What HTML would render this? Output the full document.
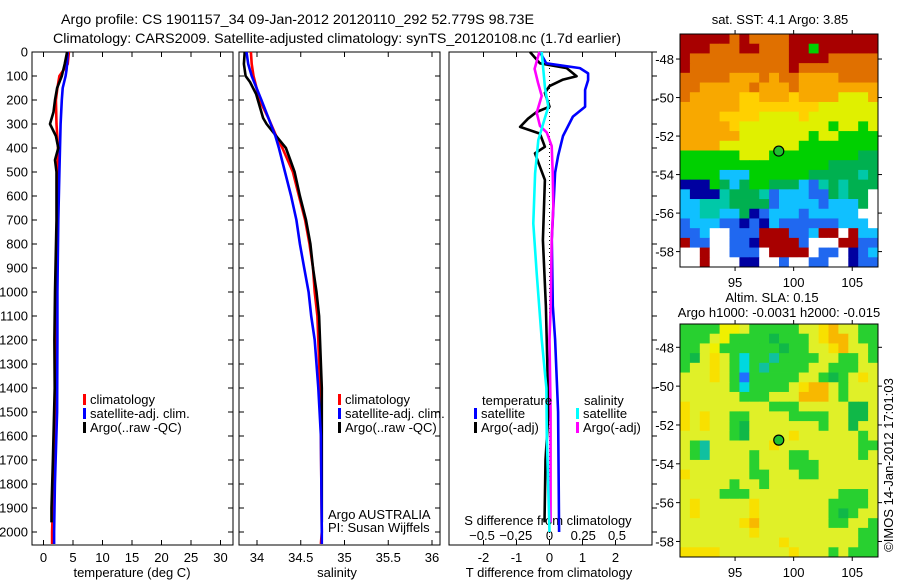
<!DOCTYPE html>
<html><head><meta charset="utf-8"><style>
html,body{margin:0;padding:0;background:#fff;}
svg{display:block;font-family:"Liberation Sans",sans-serif;}
</style></head><body>
<svg id="fig" width="900" height="580" viewBox="0 0 900 580" xmlns="http://www.w3.org/2000/svg">
<text x="61" y="24" font-size="14" textLength="473" lengthAdjust="spacingAndGlyphs">Argo profile: CS 1901157_34 09-Jan-2012 20120110_292 52.779S 98.73E</text>
<text x="53" y="43" font-size="14" textLength="568" lengthAdjust="spacingAndGlyphs">Climatology: CARS2009. Satellite-adjusted climatology: synTS_20120108.nc (1.7d earlier)</text>
<g id="g"></g>
</svg>
<script>
// ---------- data ----------
const tDepth = [0,50,75,100,150,200,300,400,500,700,1000,1200,1500,1800,2000,2050];
const tempClim = [4.3,4.1,3.4,2.7,2.35,2.1,2.2,2.45,2.35,2.4,2.1,2.05,2.0,1.7,1.45,1.45];
const tempSat = [4.1,4.0,3.9,3.75,3.25,3.1,2.9,2.8,2.7,2.5,2.35,2.35,2.3,1.93,1.8,1.8];
const argoDepth = [0,50,100,150,200,250,300,350,400,450,500,700,1000,1200,1400,1700,1900,1960];
const tempArgo = [4.0,3.6,3.1,2.3,1.95,1.7,1.1,2.1,2.5,1.95,2.2,2.2,1.95,1.85,1.9,1.6,1.35,1.35];
const sDepth = [0,50,100,200,275,350,400,500,600,700,800,900,1000,1100,1200,1400,1600,2000,2050];
const salClim = [33.93,33.94,33.96,34.03,34.13,34.22,34.29,34.41,34.48,34.55,34.6,34.64,34.66,34.69,34.7,34.72,34.73,34.74,34.73];
const salSat = [33.88,33.9,33.94,34.05,34.13,34.21,34.25,34.32,34.39,34.45,34.49,34.54,34.59,34.62,34.66,34.7,34.73,34.74,34.74];
const salDepthArgo = [0,50,100,125,175,225,275,300,350,400,450,500,600,700,800,900,1000,1100,1200,1400,1960];
const salArgo = [33.86,33.85,33.87,33.92,33.99,34.03,34.07,34.11,34.22,34.33,34.38,34.43,34.49,34.56,34.61,34.64,34.68,34.71,34.72,34.74,34.74];
const dDepth = [0,47,67,89,117,158,228,269,350,433,503,781,1058,1197,1500,2000];
const dTsat = [-0.29,-0.1,0.92,1.17,1.17,1.08,1.08,0.71,0.41,0.26,0.17,0.07,0.1,0.17,0.26,0.29];
const dArgoDepth = [0,47,67,101,115,142,170,228,250,278,312,340,395,422,478,533,783,1061,1500,1700,1960];
const dTargo = [-0.59,-0.29,0.52,0.82,0.41,0,-0.14,0,-0.39,-0.65,-0.89,-0.29,-0.14,-0.44,-0.29,-0.14,-0.2,-0.11,-0.03,-0.12,-0.15];
const dsArgoDepth = [0,70,128,183,253,308,336,392,503,642,781,1058,1200,1500,1960];
const dSargo = [-0.075,-0.11,-0.085,-0.058,-0.095,-0.07,-0.02,0.016,0.024,0.028,0.016,0.009,0,0.008,0.008];
const dsSatDepth = [0,150,228,297,367,506,714,922,1197,1400,1600,2000];
const dSsat = [-0.058,-0.033,-0.009,-0.046,-0.083,-0.107,-0.12,-0.095,-0.058,-0.023,-0.02,0];
const depthTicks = [0,100,200,300,400,500,600,700,800,900,1000,1100,1200,1300,1400,1500,1600,1700,1800,1900,2000];
const tempTicks = [0,5,10,15,20,25,30];
const salTicks = [34,34.5,35,35.5,36];
const salTickLabels = ["34","34.5","35","35.5","36"];
const dTticks = [-2,-1,0,1,2];
const dSticks = [-0.5,-0.25,0,0.25,0.5];
const latTicks = [-48,-50,-52,-54,-56,-58];
const lonTicks = [95,100,105];
const argoLon = 98.73, argoLat = -52.78;
const sstGrid = [
"RRRRROROOOORRRRRRRRR","RRROOORROOORRGRRRRRR","ROOOOOOOOOORRRROOOOO","ROOOOOOOOOOROOOOOOOO",
"OOOOOoooOoOOooooOOOO","OOoooooOoooOoooooooo","OoooooYYoooYooooyyyo","ooooooYYYYYYYYyyyyyy",
"ooooYYYYyyyyYyyyyyyy","oooooYyyyyyyyyyGyyGy","ooooooyyyyyyyGyyGGGG","ooooyyyyyyyyGGGGGGGG",
"GGGGGGyyyGGGGGGGGGgg","GGGGGGGGGGGGGGGggggg","GGGGcccGGGGGGgggggtg","nnnGgcgGGgggcbtgtggg",
"cnnntgggtbcccbbgtggw","cctttggggbccccbcccgw","ccttccgnbcccbcccccww","bcccbbnbncbbbbbbcccw",
"bbcwwbbbRRRbbcRRwRcc","RbbwwbbnRRRRbwwwRRbb","wwRwwbbbwRRRRwbbwnbc","wwRwwwnnwwbwwbbwwnbb"];
const slaGrid = [
"GGGGYYyGGGGGyyoOyyGG","GGGyYGGGGgGGGyoOOyGG","GGyYGGGGGGgGGyyoOyyG","GgyoyGcGGtGGGGyyGGyG",
"GyyoyGcGtGGGGyyGGGyy","yyyoyGbGGGGGyyGgGyoy","yyyyyGcGGGGyoOOyGyyy","yyyyyyGGGyyyOOOyGyyy",
"oyyyyyyyyGGGyyyyyggy","oyoyyGGyyyyGGGGyyggy","oyoyyGgyyyyyyyGyygyy","yyyyyGgyyyyoyyyyyyGy",
"yGtyyyyyyoyyyyyyyyGG","yGtyyyyGyyyGGyyyyyGy","yyyyyyyGyyyGGGyyyyyy","oyyyyyyGGyyyGGyyyyyy",
"yyyyyGyyGyyyyyyyyyyy","yyyyGGGyyyyyyyyyGGGy","yoyyyyyoyyyyyyyGGGGy","yoyyyyyoyyyyyyyGgGyy",
"yyyyyyoOyyyyyyyGGyyG","yyyyyyyoyyyyyyyyyyGG","yyyyyyyyyyoyyyyyyyGG","ooooyyyyyyyoyyyGyGGG"];
// ---------- helpers ----------
const NS="http://www.w3.org/2000/svg", G=document.getElementById('g');
function mk(tag,at,parent){const e=document.createElementNS(NS,tag);for(const k in at)e.setAttribute(k,at[k]);(parent||G).appendChild(e);return e;}
const Y0=52, YS=0.24;
const yD = d => Y0 + d*YS;
const xT = t => 43.5 + 5.9*t;
const xS = s => 257 + 87.5*(s-34);
const xDT = v => 549.5 + 33*v;
const xDS = v => 549.5 + 135*v;
function line(xs, ds, fx, color, w, name){
  const p = xs.map((v,i)=>fx(v).toFixed(1)+','+yD(ds[i]).toFixed(1)).join(' ');
  const e = mk('polyline',{points:p,fill:'none',stroke:color,'stroke-width':w,'stroke-linejoin':'round'});
  
  
}
function txt(x,y,s,o){o=o||{};const e=mk('text',Object.assign({x:x,y:y,'font-size':13},o));e.textContent=s;return e;}
function panel(x0,x1,name){
  const r=mk('rect',{x:x0,y:52,width:x1-x0,height:493,fill:'none',stroke:'#000','stroke-width':1});
  
  
}
// ---------- panels ----------
panel(32,233,'temperature-panel');
panel(239,440,'salinity-panel');
panel(449,652,'difference-panel');
depthTicks.forEach(d=>{
  const y=yD(d);
  mk('line',{x1:32,x2:37,y1:y,y2:y,stroke:'#000'});
  mk('line',{x1:228,x2:233,y1:y,y2:y,stroke:'#000'});
  mk('line',{x1:239,x2:244,y1:y,y2:y,stroke:'#000'});
  mk('line',{x1:435,x2:440,y1:y,y2:y,stroke:'#000'});
  mk('line',{x1:652,x2:657,y1:y,y2:y,stroke:'#000'});
  const t=txt(28,y+4.5,String(d),{'text-anchor':'end'});
  
  
});
function xticks(vals,labels,fx,name){
  vals.forEach((v,i)=>{
    const x=fx(v);
    mk('line',{x1:x,x2:x,y1:52,y2:57,stroke:'#000'});
    mk('line',{x1:x,x2:x,y1:540,y2:545,stroke:'#000'});
    const t=txt(x,562,labels[i],{'text-anchor':'middle'});
    
    
  });
}
xticks(tempTicks,tempTicks.map(String),xT,'temperature-tick-label');
xticks(salTicks,salTickLabels,xS,'salinity-tick-label');
xticks(dTticks,dTticks.map(String),xDT,'t-diff-tick-label');
dSticks.forEach(v=>{
  const t=txt(xDS(v),540,String(v).replace('-','\u2212'),{'text-anchor':'middle'});
  
  
});
let e;
e=txt(132,577,'temperature (deg C)',{'text-anchor':'middle'});


e=txt(337,577,'salinity',{'text-anchor':'middle'});


e=txt(549,577,'T difference from climatology',{'text-anchor':'middle'});


e=txt(548,525,'S difference from climatology',{'text-anchor':'middle'});


e=mk('line',{x1:549.5,x2:549.5,y1:52,y2:545,stroke:'#000','stroke-dasharray':'1,3'});


line(tempClim,tDepth,xT,'#f00',2.6,'temp-climatology-line');
line(tempSat,tDepth,xT,'#00f',2.6,'temp-satellite-line');
line(tempArgo,argoDepth,xT,'#000',2.6,'temp-argo-line');
line(salClim,sDepth,xS,'#f00',2.6,'sal-climatology-line');
line(salArgo,salDepthArgo,xS,'#000',2.6,'sal-argo-line');
line(salSat,sDepth,xS,'#00f',2.6,'sal-satellite-line');
line(dTargo,dArgoDepth,xDT,'#000',2.6,'tdiff-argo-line');
line(dTsat,dDepth,xDT,'#00f',2.6,'tdiff-satellite-line');
line(dSargo,dsArgoDepth,xDS,'#f0f',2.6,'sdiff-argo-line');
line(dSsat,dsSatDepth,xDS,'#0ff',2.6,'sdiff-satellite-line');
function leg(x,y,color,label,name){
  const g=mk('g',{});
  
  
  mk('rect',{x:x,y:y-10,width:3,height:11,fill:color},g);
  const t=mk('text',{x:x+7,y:y,'font-size':13},g);t.textContent=label;
}
leg(83,404,'#f00','climatology','legend-climatology');
leg(83,418,'#00f','satellite-adj. clim.','legend-satellite-adj');
leg(83,432,'#000','Argo(..raw -QC)','legend-argo');
leg(338,404,'#f00','climatology','legend-sal-climatology');
leg(338,418,'#00f','satellite-adj. clim.','legend-sal-satellite-adj');
leg(338,432,'#000','Argo(..raw -QC)','legend-sal-argo');
e=txt(482,405,'temperature');


e=txt(584,405,'salinity');


leg(474,418,'#00f','satellite','legend-t-satellite');
leg(474,432,'#000','Argo(-adj)','legend-t-argo');
leg(576,418,'#0ff','satellite','legend-s-satellite');
leg(576,432,'#f0f','Argo(-adj)','legend-s-argo');
e=txt(328,519,'Argo AUSTRALIA');


e=txt(328,532,'PI: Susan Wijffels');


// ---------- maps ----------
const MX0=680, MX1=878, LON0=90.3, LON1=107.2;
const mlon = v => MX0 + (v-LON0)*(MX1-MX0)/(LON1-LON0);
const sstCol={R:'#a80000',O:'#e07000',o:'#f8a800',Y:'#ffd000',y:'#e0f000',G:'#00d000',g:'#00b050',t:'#00c8a8',c:'#10c0ff',b:'#2068f0',n:'#0000a0',w:'#ffffff'};
const slaCol={Y:'#f0f000',y:'#e0f028',o:'#f8e000',O:'#f8b800',G:'#28d030',g:'#10b848',t:'#10c0a0',c:'#00d8e0',b:'#2070ff'};
function map(top,bot,latTop,latBot,grid,cols,name){
  const mlat = v => top + (latTop-v)*(bot-top)/(latTop-latBot);
  const gg=mk('g',{});
  
  
  const nr=grid.length, nc=grid[0].length, cw=(MX1-MX0)/nc, ch=(bot-top)/nr;
  grid.forEach((row,r)=>{for(let c=0;c<nc;c++){
    const cell=mk('rect',{x:(MX0+c*cw).toFixed(2),y:(top+r*ch).toFixed(2),width:(cw+0.4).toFixed(2),height:(ch+0.4).toFixed(2),fill:cols[row[c]]||'#fff'},gg);
    
    
  }});
  mk('rect',{x:MX0,y:top,width:MX1-MX0,height:bot-top,fill:'none',stroke:'#000'},gg);
  latTicks.forEach(v=>{const y=mlat(v);
    mk('line',{x1:MX0-4,x2:MX0,y1:y,y2:y,stroke:'#000'},gg);
    mk('line',{x1:MX1,x2:MX1+4,y1:y,y2:y,stroke:'#000'},gg);
    const t=mk('text',{x:MX0-6,y:y+5,'font-size':13,'text-anchor':'end'},gg);t.textContent='-'+(-v);
    
    
  });
  lonTicks.forEach(v=>{const x=mlon(v);
    mk('line',{x1:x,x2:x,y1:top-4,y2:top,stroke:'#000'},gg);
    mk('line',{x1:x,x2:x,y1:bot,y2:bot+4,stroke:'#000'},gg);
    const t=mk('text',{x:x,y:bot+20,'font-size':13,'text-anchor':'middle'},gg);t.textContent=String(v);
    
    
  });
  const m=mk('circle',{cx:mlon(argoLon),cy:mlat(argoLat),r:5,fill:'#20c030',stroke:'#000','stroke-width':1.2},gg);
  
  
}
map(34,267,-46.7,-58.8,sstGrid,sstCol,'sst-map');
map(324,557,-46.8,-58.8,slaGrid,slaCol,'sla-map');
e=txt(780,24,'sat. SST: 4.1 Argo: 3.85',{'text-anchor':'middle'});


e=txt(772,302,'Altim. SLA: 0.15',{'text-anchor':'middle'});


e=txt(779,317,'Argo h1000: -0.0031 h2000: -0.015',{'text-anchor':'middle'});


e=txt(893,465,'\u00a9IMOS 14-Jan-2012 17:01:03',{'text-anchor':'middle',transform:'rotate(-90 893 465)'});


</script>
</body></html>
